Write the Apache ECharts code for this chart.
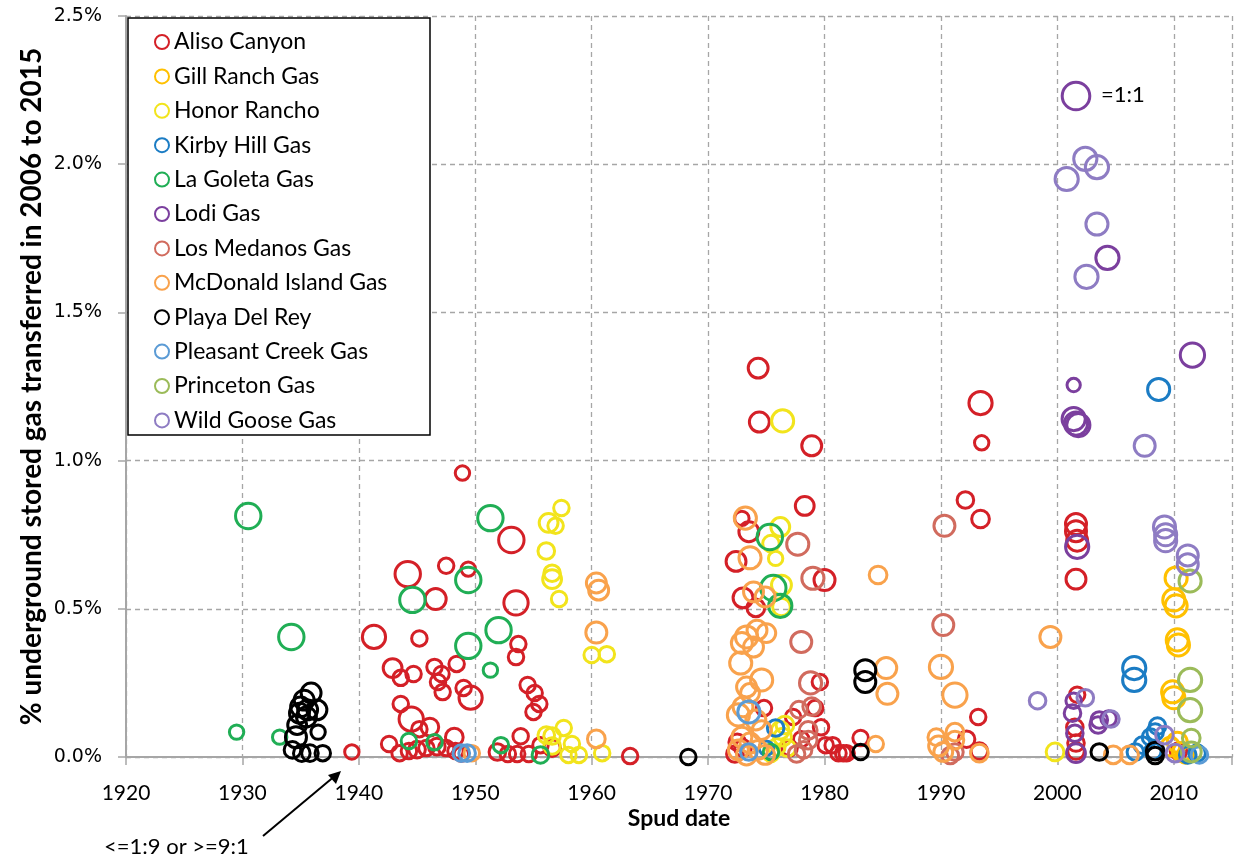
<!DOCTYPE html>
<html>
<head>
<meta charset="utf-8">
<script src="https://cdn.jsdelivr.net/npm/echarts@6/dist/echarts.min.js"></script>
<style>
    html, body { margin: 0; padding: 0; background: #fff; }
    .scatter_display { width: 1235px; height: 861px; }
</style>
</head>
<body>
<div class="scatter_display"></div>
<script>
// [spud year, % transferred, size ratio (1 = 1:1)]
var aliso = [
    [1939.4, 0.017, 0.2], [1941.3, 0.405, 0.6], [1944.2, 0.617, 0.7], [1947.5, 0.645, 0.25],
    [1946.6, 0.533, 0.5], [1948.9, 0.958, 0.2], [1949.4, 0.634, 0.2], [1953.1, 0.732, 0.7],
    [1953.5, 0.52, 0.65], [1945.2, 0.40, 0.25], [1953.7, 0.381, 0.25], [1953.5, 0.337, 0.25],
    [1942.9, 0.30, 0.4], [1943.6, 0.267, 0.25], [1944.7, 0.28, 0.25], [1946.5, 0.304, 0.25],
    [1947.1, 0.28, 0.25], [1946.8, 0.253, 0.25], [1947.2, 0.219, 0.25], [1948.4, 0.314, 0.25],
    [1949.0, 0.233, 0.25], [1949.6, 0.20, 0.6], [1954.5, 0.243, 0.25], [1955.1, 0.216, 0.25],
    [1955.5, 0.179, 0.25], [1955.0, 0.152, 0.25], [1943.6, 0.179, 0.25], [1944.5, 0.128, 0.65],
    [1946.1, 0.101, 0.35], [1945.2, 0.094, 0.25], [1942.6, 0.044, 0.25], [1943.5, 0.013, 0.25],
    [1944.3, 0.02, 0.25], [1945.0, 0.025, 0.3], [1945.8, 0.03, 0.25], [1946.7, 0.035, 0.3],
    [1947.5, 0.03, 0.25], [1948.3, 0.02, 0.25], [1948.8, 0.01, 0.2], [1948.2, 0.067, 0.35],
    [1953.9, 0.07, 0.25], [1951.9, 0.017, 0.3], [1952.8, 0.01, 0.25], [1953.6, 0.01, 0.25],
    [1954.6, 0.01, 0.25], [1955.6, 0.04, 0.25], [1956.6, 0.03, 0.3], [1963.3, 0.003, 0.25],
    [1974.3, 1.312, 0.45], [1974.4, 1.13, 0.45], [1978.9, 1.05, 0.45], [1978.3, 0.847, 0.4],
    [1972.9, 0.805, 0.2], [1973.5, 0.76, 0.45], [1972.4, 0.66, 0.45], [1980.0, 0.597, 0.5],
    [1973.0, 0.537, 0.45], [1974.1, 0.503, 0.35], [1979.6, 0.253, 0.25], [1974.8, 0.165, 0.25],
    [1977.3, 0.135, 0.25], [1979.7, 0.10, 0.25], [1979.2, 0.165, 0.25], [1972.5, 0.05, 0.3],
    [1973.0, 0.03, 0.3], [1972.3, 0.01, 0.3], [1977.0, 0.03, 0.25], [1978.0, 0.06, 0.25],
    [1980.1, 0.04, 0.25], [1980.7, 0.04, 0.25], [1981.2, 0.013, 0.25], [1981.9, 0.013, 0.25],
    [1983.1, 0.064, 0.25], [1981.6, 0.013, 0.25], [1993.2, 0.135, 0.25], [1992.2, 0.06, 0.3],
    [1993.3, 0.02, 0.3], [1993.4, 1.194, 0.6], [1993.5, 1.06, 0.2], [1992.1, 0.867, 0.3],
    [1993.4, 0.803, 0.35], [2001.6, 0.786, 0.5], [2001.6, 0.762, 0.5], [2001.7, 0.73, 0.5],
    [2001.6, 0.60, 0.45], [2001.7, 0.21, 0.25], [2001.5, 0.10, 0.3], [2001.6, 0.047, 0.3],
    [2001.6, 0.02, 0.3], [2010.4, 0.02, 0.3]
];
var gillRanch = [
    [2010.2, 0.604, 0.55], [2010.0, 0.53, 0.55], [2010.2, 0.51, 0.55], [2010.3, 0.395, 0.55],
    [2010.4, 0.378, 0.55], [2009.9, 0.22, 0.55], [2010.0, 0.20, 0.55], [2010.3, 0.05, 0.45],
    [2009.7, 0.035, 0.4], [2010.7, 0.017, 0.4], [2011.0, 0.007, 0.3]
];
var honorRancho = [
    [1957.4, 0.84, 0.25], [1956.3, 0.79, 0.4], [1956.9, 0.78, 0.25], [1956.1, 0.695, 0.3],
    [1956.6, 0.62, 0.3], [1956.6, 0.60, 0.4], [1957.2, 0.533, 0.25], [1960.0, 0.344, 0.25],
    [1961.3, 0.347, 0.25], [1957.6, 0.098, 0.25], [1956.1, 0.074, 0.3], [1956.6, 0.071, 0.3],
    [1956.6, 0.037, 0.3], [1958.3, 0.044, 0.25], [1958.9, 0.007, 0.25], [1958.0, 0.007, 0.25],
    [1960.9, 0.013, 0.25], [1976.4, 1.134, 0.55], [1976.2, 0.776, 0.4], [1975.4, 0.72, 0.3],
    [1975.8, 0.67, 0.2], [1976.3, 0.58, 0.45], [1976.3, 0.506, 0.35], [1976.6, 0.108, 0.35],
    [1976.2, 0.09, 0.35], [1976.4, 0.067, 0.35], [1975.9, 0.034, 0.3], [1976.8, 0.03, 0.3],
    [1975.4, 0.01, 0.25], [1999.8, 0.017, 0.35]
];
var kirbyHill = [
    [1975.8, 0.098, 0.3], [1975.0, 0.03, 0.2], [2008.7, 1.24, 0.55], [2006.6, 0.30, 0.6],
    [2006.6, 0.26, 0.6], [2008.6, 0.104, 0.3], [2008.4, 0.084, 0.3], [2008.0, 0.067, 0.3],
    [2007.3, 0.04, 0.3], [2006.7, 0.017, 0.3], [2008.2, 0.02, 0.3], [2011.2, 0.007, 0.3],
    [2012.0, 0.013, 0.3]
];
var laGoleta = [
    [1930.5, 0.813, 0.7], [1934.2, 0.405, 0.7], [1929.5, 0.084, 0.2], [1933.2, 0.067, 0.2],
    [1944.6, 0.53, 0.7], [1949.4, 0.597, 0.7], [1949.4, 0.375, 0.7], [1951.3, 0.806, 0.7],
    [1952.0, 0.428, 0.7], [1951.3, 0.293, 0.2], [1944.3, 0.054, 0.25], [1946.5, 0.05, 0.25],
    [1952.2, 0.04, 0.25], [1955.6, 0.007, 0.3], [1975.3, 0.742, 0.7], [1975.6, 0.57, 0.7],
    [1976.2, 0.51, 0.6], [1975.4, 0.017, 0.25]
];
var lodi = [
    [2001.6, 2.23, 0.8], [2004.3, 1.684, 0.6], [2001.4, 1.255, 0.15], [2001.4, 1.14, 0.6],
    [2001.6, 1.125, 0.6], [2001.8, 1.12, 0.6], [2001.7, 0.709, 0.6], [2011.6, 1.356, 0.65],
    [2001.4, 0.19, 0.25], [2001.3, 0.148, 0.3], [2001.5, 0.08, 0.3], [2001.6, 0.013, 0.4],
    [2003.5, 0.108, 0.3], [2003.6, 0.125, 0.3], [2004.4, 0.13, 0.25]
];
var losMedanos = [
    [1977.7, 0.718, 0.55], [1979.0, 0.603, 0.55], [1978.0, 0.388, 0.5], [1978.8, 0.25, 0.55],
    [1977.8, 0.16, 0.3], [1978.9, 0.17, 0.35], [1978.6, 0.09, 0.35], [1978.6, 0.057, 0.35],
    [1978.2, 0.024, 0.3], [1977.6, 0.01, 0.3], [1990.3, 0.78, 0.5], [1990.2, 0.445, 0.5],
    [1991.2, 0.017, 0.3], [1990.8, 0.005, 0.3]
];
var mcDonald = [
    [1949.7, 0.013, 0.25], [1960.4, 0.587, 0.45], [1960.6, 0.563, 0.45], [1960.4, 0.42, 0.5],
    [1960.4, 0.061, 0.35], [1973.2, 0.806, 0.55], [1973.6, 0.672, 0.55], [1973.9, 0.557, 0.45],
    [1974.9, 0.54, 0.45], [1984.6, 0.614, 0.35], [1973.3, 0.405, 0.55], [1974.2, 0.428, 0.45],
    [1975.0, 0.418, 0.4], [1972.9, 0.385, 0.5], [1973.9, 0.371, 0.45], [1972.8, 0.317, 0.55],
    [1974.6, 0.26, 0.55], [1973.3, 0.236, 0.45], [1973.6, 0.216, 0.4], [1973.0, 0.169, 0.45],
    [1972.6, 0.142, 0.55], [1974.1, 0.125, 0.45], [1974.6, 0.091, 0.4], [1972.9, 0.067, 0.45],
    [1973.6, 0.047, 0.45], [1972.6, 0.024, 0.45], [1974.3, 0.024, 0.4], [1973.3, 0.007, 0.45],
    [1974.9, 0.007, 0.4], [1985.3, 0.30, 0.5], [1985.4, 0.213, 0.5], [1984.4, 0.044, 0.25],
    [1990.0, 0.304, 0.6], [1991.2, 0.209, 0.65], [1989.6, 0.067, 0.3], [1991.2, 0.084, 0.35],
    [1991.2, 0.057, 0.35], [1989.8, 0.037, 0.45], [1990.2, 0.017, 0.4], [1993.3, 0.013, 0.35],
    [1999.4, 0.405, 0.5], [2004.8, 0.007, 0.35], [2006.2, 0.007, 0.35]
];
var playaDelRey = [
    [1935.9, 0.216, 0.45], [1935.3, 0.192, 0.45], [1935.0, 0.169, 0.45], [1935.6, 0.159, 0.45],
    [1936.4, 0.159, 0.45], [1934.9, 0.148, 0.45], [1935.5, 0.135, 0.45], [1934.7, 0.108, 0.4],
    [1934.6, 0.067, 0.5], [1936.5, 0.084, 0.2], [1934.3, 0.024, 0.3], [1935.1, 0.013, 0.3],
    [1935.8, 0.013, 0.3], [1936.9, 0.013, 0.25], [1968.3, 0.0, 0.25], [1983.5, 0.293, 0.5],
    [1983.5, 0.253, 0.5], [1983.1, 0.017, 0.25], [2003.6, 0.017, 0.3], [2008.4, 0.02, 0.35],
    [2008.4, 0.005, 0.3]
];
var pleasantCreek = [
    [1948.8, 0.013, 0.3], [1949.3, 0.013, 0.3], [1973.5, 0.152, 0.55], [1973.5, 0.017, 0.3],
    [2012.2, 0.007, 0.3]
];
var princeton = [
    [2011.4, 0.594, 0.55], [2011.4, 0.26, 0.6], [2011.4, 0.158, 0.6], [2011.5, 0.064, 0.35],
    [2011.5, 0.017, 0.45]
];
var wildGoose = [
    [2000.8, 1.95, 0.6], [2002.4, 2.018, 0.6], [2003.4, 1.99, 0.6], [2003.4, 1.798, 0.55],
    [2002.5, 1.62, 0.6], [2007.5, 1.05, 0.5], [2009.2, 0.776, 0.55], [2009.3, 0.75, 0.55],
    [2009.3, 0.73, 0.55], [2011.2, 0.68, 0.5], [2011.2, 0.65, 0.5], [1998.3, 0.19, 0.3],
    [2002.4, 0.2, 0.3], [2004.6, 0.128, 0.3], [2009.2, 0.074, 0.35], [2010.1, 0.013, 0.35]
];

var fieldNames = ['Aliso Canyon', 'Gill Ranch Gas', 'Honor Rancho', 'Kirby Hill Gas', 'La Goleta Gas', 'Lodi Gas',
    'Los Medanos Gas', 'McDonald Island Gas', 'Playa Del Rey', 'Pleasant Creek Gas', 'Princeton Gas', 'Wild Goose Gas'];
var fieldData = [aliso, gillRanch, honorRancho, kirbyHill, laGoleta, lodi,
    losMedanos, mcDonald, playaDelRey, pleasantCreek, princeton, wildGoose];
var fieldColors = ['#D42027', '#FFC000', '#F2E41C', '#1B7CC4', '#20AE55', '#7B3F9E',
    '#D16B5E', '#F9A24C', '#000000', '#5B9BD5', '#9BBB59', '#8E7CC3'];

window.addEventListener('load', function() {
    var ScatterChart = echarts.init(document.querySelector('.scatter_display'));

    var seriesList = [];
    for (var i = 0; i < fieldNames.length; i++) {
        seriesList.push({
            name: fieldNames[i],
            type: 'scatter',
            data: fieldData[i],
            symbol: 'circle',
            symbolSize: function(val) {
                return 10 + 22 * val[2];
            },
            itemStyle: {
                color: 'rgba(0,0,0,0)',
                borderColor: fieldColors[i],
                borderWidth: 3,
                opacity: 1
            }
        });
    }

    ScatterChart.setOption({
        animation: false,
        grid: {
            left: 126,
            right: 3,
            top: 16,
            bottom: 104
        },
        legend: {
            orient: 'vertical',
            left: 149,
            top: 25,
            z: 10,
            itemWidth: 14,
            itemHeight: 14,
            itemGap: 10.4,
            icon: 'circle',
            data: fieldNames,
            textStyle: {
                fontFamily: 'Lato',
                fontSize: 23,
                lineHeight: 24,
                color: '#000'
            }
        },
        xAxis: {
            type: 'value',
            min: 1920,
            max: 2015,
            interval: 10,
            name: 'Spud date',
            nameLocation: 'middle',
            nameGap: 50,
            nameMoveOverlap: false,
            nameTextStyle: {
                fontFamily: 'Lato',
                fontWeight: 'bold',
                fontSize: 23,
                color: '#000'
            },
            axisLine: { lineStyle: { color: '#A6A6A6', width: 2 } },
            axisTick: { show: true, length: 8, lineStyle: { color: '#A6A6A6', width: 1.5 } },
            axisLabel: {
                margin: 26,
                fontFamily: 'Lato',
                fontSize: 21,
                color: '#000',
                formatter: function(v) {
                    return v % 10 === 0 ? String(v) : '';
                }
            },
            splitLine: { show: true, lineStyle: { color: '#A6A6A6', type: [5, 4], width: 1.3 } }
        },
        yAxis: {
            type: 'value',
            min: 0,
            max: 2.5,
            interval: 0.5,
            name: '% underground stored gas transferred in 2006 to 2015',
            nameLocation: 'middle',
            nameGap: 80,
            nameMoveOverlap: false,
            nameTextStyle: {
                fontFamily: 'Lato',
                fontWeight: 'bold',
                fontSize: 28,
                color: '#000'
            },
            axisLine: { show: true, lineStyle: { color: '#A6A6A6', width: 2 } },
            axisTick: { show: true, length: 8, lineStyle: { color: '#A6A6A6', width: 1.5 } },
            axisLabel: {
                margin: 24,
                fontFamily: 'DejaVu Sans',
                fontSize: 19,
                color: '#000',
                formatter: function(v) {
                    return v.toFixed(1) + '%';
                }
            },
            splitLine: { show: true, lineStyle: { color: '#A6A6A6', type: [5, 4], width: 1.3 } }
        },
        graphic: [
            {
                type: 'rect',
                z: 5,
                shape: { x: 128, y: 18, width: 302, height: 417 },
                style: { fill: '#fff', stroke: '#000', lineWidth: 1.5 }
            },
            {
                type: 'text',
                z: 20,
                left: 1101,
                top: 84,
                style: { text: '=1:1', font: '22px Lato', fill: '#000' }
            },
            {
                type: 'text',
                z: 20,
                left: 104,
                top: 836,
                style: { text: '<=1:9 or >=9:1', font: '22px Lato', fill: '#000' }
            },
            {
                type: 'line',
                z: 20,
                shape: { x1: 263, y1: 836, x2: 336, y2: 775 },
                style: { stroke: '#000', lineWidth: 2 }
            },
            {
                type: 'polygon',
                z: 20,
                shape: { points: [[341, 771], [328, 775], [336, 784]] },
                style: { fill: '#000' }
            }
        ],
        series: seriesList
    });
});
</script>
</body>
</html>
